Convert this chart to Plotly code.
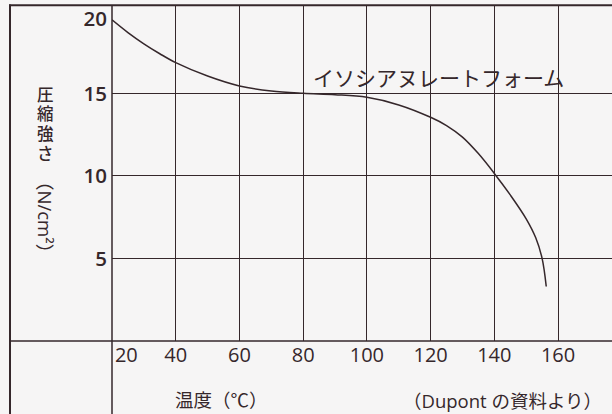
import plotly.graph_objects as go

# ---- data ----
temperature = [20, 25, 30, 35, 40, 50, 60, 70, 80, 90, 100, 110, 120, 125, 130, 135, 140, 145, 150, 153, 155, 156.3]
strength = [19.45, 18.68, 18.0, 17.4, 16.86, 16.05, 15.45, 15.14, 15.0, 14.92, 14.76, 14.3, 13.55, 13.05, 12.35, 11.35, 10.15, 8.85, 7.4, 6.25, 5.0, 3.3]

x_grid = [40, 60, 80, 100, 120, 140, 160]
x_tick_vals = [24.5, 40, 60, 80, 100, 120, 140, 160]
x_tick_text = ["20", "40", "60", "80", "100", "120", "140", "160"]
y_grid = [5, 10, 15]
y_tick_vals = [5, 10, 15, 19.5]
y_tick_text = ["5", "10", "15", "20"]

series_name = "イソシアヌレートフォーム"
y_title_chars = ["圧", "縮", "強", "さ"]
y_title_unit = "（N/cm²）"
x_title = "温度（℃）"
source_note = "（Dupont の資料より）"

INK = "#35272b"
BG = "#f6f5f5"
LATIN = "Open Sans, Noto Sans CJK JP, sans-serif"
CJK = "Noto Sans CJK JP, sans-serif"
STACK = "Roboto, Noto Sans CJK JP, sans-serif"

W, H = 612, 414
L, R, T, B = 112, 0, 5, 73
PW, PH = W - L - R, H - T - B

fig = go.Figure()
fig.add_trace(go.Scatter(
    x=temperature, y=strength, mode="lines",
    line=dict(color=INK, width=1.5, shape="spline", smoothing=1.0),
    name=series_name, showlegend=False, hoverinfo="skip",
))

fig.update_xaxes(
    range=[20, 20 + PW / 3.186], showgrid=False, zeroline=False, showline=False,
    tickmode="array", tickvals=x_tick_vals, ticktext=x_tick_text, ticks="",
    tickfont=dict(family=LATIN, size=20, color=INK, weight=500),
    minor=dict(tickmode="array", tickvals=x_grid, showgrid=True, gridcolor=INK, gridwidth=1.3, ticks=""),
)
fig.update_yaxes(
    range=[0, PH / 16.51], showgrid=False, zeroline=False, showline=False,
    tickmode="array", tickvals=y_tick_vals, ticktext=y_tick_text, ticks="",
    ticklabelstandoff=4,
    tickfont=dict(family=LATIN, size=20.5, color=INK, weight=600),
    minor=dict(tickmode="array", tickvals=y_grid, showgrid=True, gridcolor=INK, gridwidth=1.3, ticks=""),
)

# frame lines (paper coordinates)
def px_x(p):
    return (p - L) / PW

def px_y(p):
    return (H - B - p) / PH

shapes = [
    # outer left border
    dict(x0=px_x(10), x1=px_x(10), y0=px_y(H + 5), y1=px_y(4.5), width=2),
    # top border
    dict(x0=px_x(9), x1=px_x(W + 5), y0=px_y(5.3), y1=px_y(5.3), width=2),
    # temperature axis line (0 level)
    dict(x0=px_x(10), x1=px_x(W + 5), y0=0, y1=0, width=1.5),
    # strength axis line (20 ℃)
    dict(x0=0, x1=0, y0=px_y(H + 5), y1=px_y(5), width=1.5),
]
fig.update_layout(shapes=[
    dict(type="line", xref="paper", yref="paper", x0=s["x0"], x1=s["x1"], y0=s["y0"], y1=s["y1"],
         line=dict(color=INK, width=s["width"]), layer="above")
    for s in shapes
])

ann = []
for i, ch in enumerate(y_title_chars):
    ann.append(dict(text=ch, x=px_x(45), y=px_y(95 + i * 19.7), xref="paper", yref="paper",
                    showarrow=False, xanchor="center", yanchor="middle", borderpad=0,
                    font=dict(family=STACK, size=16.5, color=INK, weight=500)))
ann.append(dict(text=y_title_unit, x=px_x(46), y=px_y(217), xref="paper", yref="paper",
                showarrow=False, textangle=90, xanchor="center", yanchor="middle",
                font=dict(family=LATIN, size=18.5, color=INK)))
ann.append(dict(text=x_title, x=px_x(221), y=px_y(399), xref="paper", yref="paper",
                showarrow=False, xanchor="center", yanchor="middle",
                font=dict(family=CJK, size=18.5, color=INK)))
ann.append(dict(text=source_note, x=px_x(502), y=px_y(400), xref="paper", yref="paper",
                showarrow=False, xanchor="center", yanchor="middle",
                font=dict(family=LATIN, size=18.5, color=INK)))
ann.append(dict(text=series_name, x=px_x(438.5), y=px_y(77), xref="paper", yref="paper",
                showarrow=False, xanchor="center", yanchor="middle",
                font=dict(family=CJK, size=21, color=INK)))

fig.update_layout(
    width=W, height=H, margin=dict(l=L, r=R, t=T, b=B, pad=0),
    paper_bgcolor=BG, plot_bgcolor=BG, annotations=ann, showlegend=False,
)

fig.write_html("out.html", config={"displayModeBar": False},
               post_script="document.body.style.margin='0';document.body.style.overflow='hidden';")
